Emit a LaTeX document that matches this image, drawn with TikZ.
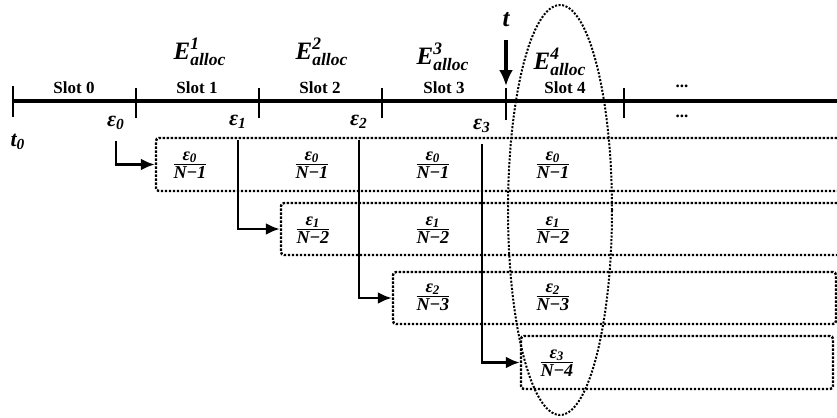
\documentclass[tikz,border=0pt]{standalone}
\usepackage{amsmath}
\usepackage{fontspec}
\setmainfont{Liberation Serif}
\usetikzlibrary{arrows.meta, fit}
\newcommand{\bi}[1]{\text{\bfseries\itshape #1}}
\newcommand{\bminus}{\text{\bfseries −}}

\begin{document}
\begin{tikzpicture}[x=0.5pt, y=-0.5pt,
    slotbox/.style={draw, dash pattern=on 1.2pt off 0.8pt, line width=1.2pt, rounded corners=1.5pt, inner sep=0pt},
    fraclbl/.style={font=\fontsize{13}{15}\selectfont},
    slotlbl/.style={font=\fontsize{8.5}{10}\selectfont\bfseries},
    elbl/.style={font=\fontsize{11}{13}\selectfont},
    alloclbl/.style={font=\fontsize{12.5}{15}\selectfont},
    feed/.style={line width=1.4pt, shorten <=2pt, -{Latex[length=7pt,width=6pt]}}]
    \useasboundingbox (0,0) rectangle (837,418);
    \clip (0,0) rectangle (837,418);

    % time axis
    \draw[line width=2pt] (13,101) -- (850,101);
    \draw[line width=1.4pt] (13,86) -- (13,117);
    \draw[line width=1.4pt] (136,88) -- (136,118);
    \draw[line width=1.4pt] (259,88) -- (259,118);
    \draw[line width=1.4pt] (382,88) -- (382,118);
    \draw[line width=1.4pt] (506,88) -- (506,120);
    \draw[line width=1.4pt] (624,88) -- (624,118);
    \node[slotlbl] (s0) at (74,88) {Slot 0};
    \node[slotlbl] (s1) at (197,88) {Slot 1};
    \node[slotlbl] (s2) at (320,88) {Slot 2};
    \node[slotlbl] (s3) at (444,88) {Slot 3};
    \node[slotlbl] (s4) at (565,88) {Slot 4};
    \node[slotlbl] (more1) at (682,86) {...};
    \node[slotlbl] (more2) at (682,116) {...};

    % allocated energy per slot
    \node[alloclbl] (E1) at (200,52) {$\bi{E}^{\bi{1}}_{\bi{alloc}}$};
    \node[alloclbl] (E2) at (322,52) {$\bi{E}^{\bi{2}}_{\bi{alloc}}$};
    \node[alloclbl] (E3) at (443,57) {$\bi{E}^{\bi{3}}_{\bi{alloc}}$};
    \node[alloclbl] (E4) at (560,62) {$\bi{E}^{\bi{4}}_{\bi{alloc}}$};

    % current time
    \node[alloclbl] (t) at (506,20) {\bi{t}};
    \coordinate (tend) at (506,86);
    \draw[line width=2pt, shorten <=3pt, -{Latex[length=8pt,width=7pt]}] (t) -- (tend);
    \node[elbl] (t0) at (18,142) {$\bi{t}_{\bi{0}}$};

    % harvested energy
    \node[elbl] (e0) at (116,123) {$\bi{ε}_{\bi{0}}$};
    \node[elbl] (e1) at (238,122) {$\bi{ε}_{\bi{1}}$};
    \node[elbl] (e2) at (359,122) {$\bi{ε}_{\bi{2}}$};
    \node[elbl] (e3) at (482,126) {$\bi{ε}_{\bi{3}}$};

    % spreading boxes
    \node[slotbox, fit={(156,138) (860,191)}] (b1) {};
    \node[slotbox, fit={(281,203) (860,255)}] (b2) {};
    \node[slotbox, fit={(393,272) (836,324)}] (b3) {};
    \node[slotbox, fit={(521,336) (833,389)}] (b4) {};

    \node[fraclbl] (f10) at (190,165) {$\frac{\bi{ε}_{\bi{0}}}{\bi{N}\bminus\bi{1}}$};
    \node[fraclbl] (f11) at (312,165) {$\frac{\bi{ε}_{\bi{0}}}{\bi{N}\bminus\bi{1}}$};
    \node[fraclbl] (f12) at (433,165) {$\frac{\bi{ε}_{\bi{0}}}{\bi{N}\bminus\bi{1}}$};
    \node[fraclbl] (f13) at (553,165) {$\frac{\bi{ε}_{\bi{0}}}{\bi{N}\bminus\bi{1}}$};
    \node[fraclbl] (f21) at (313,230) {$\frac{\bi{ε}_{\bi{1}}}{\bi{N}\bminus\bi{2}}$};
    \node[fraclbl] (f22) at (433,230) {$\frac{\bi{ε}_{\bi{1}}}{\bi{N}\bminus\bi{2}}$};
    \node[fraclbl] (f23) at (553,230) {$\frac{\bi{ε}_{\bi{1}}}{\bi{N}\bminus\bi{2}}$};
    \node[fraclbl] (f32) at (433,297) {$\frac{\bi{ε}_{\bi{2}}}{\bi{N}\bminus\bi{3}}$};
    \node[fraclbl] (f33) at (553,297) {$\frac{\bi{ε}_{\bi{2}}}{\bi{N}\bminus\bi{3}}$};
    \node[fraclbl] (f43) at (557,363) {$\frac{\bi{ε}_{\bi{3}}}{\bi{N}\bminus\bi{4}}$};

    \draw[feed] (e0.south) |- (b1.west);
    \draw[feed] (e1.south) |- (b2.west);
    \draw[feed] (e2.south) |- (b3.west);
    \draw[feed] (e3.south) |- (b4.west);

    % current slot
    \draw[dash pattern=on 1pt off 0.8pt, line width=1pt] (560,210) ellipse [x radius=26pt, y radius=102.5pt];
\end{tikzpicture}
\end{document}
